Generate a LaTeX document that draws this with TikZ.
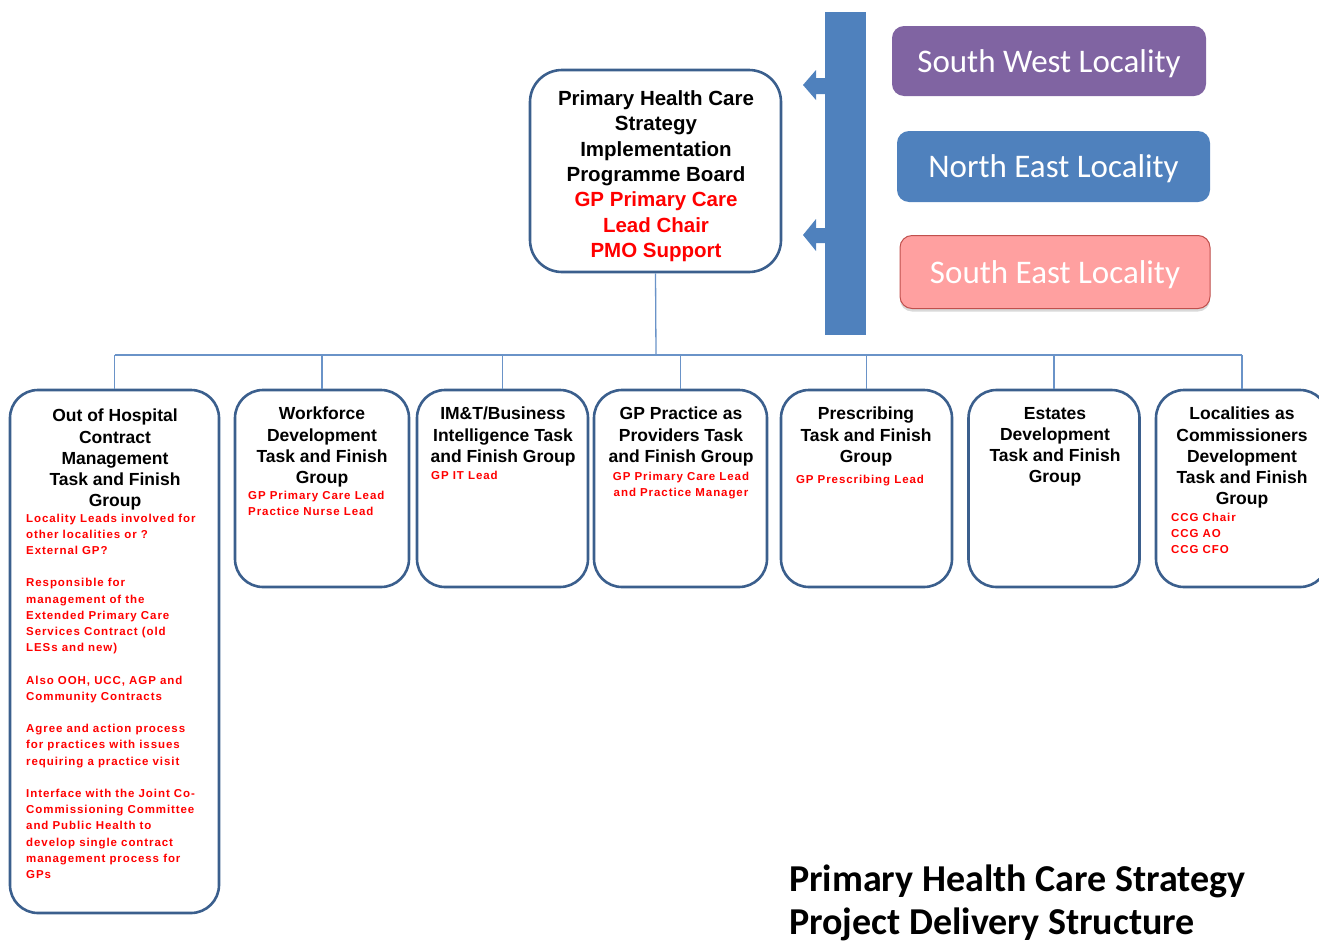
\documentclass[tikz,border=0pt]{standalone}
\usepackage{fontspec}
\setmainfont{Liberation Sans}
\newfontfamily\calfont{Carlito}
\newfontfamily\notefont[LetterSpace=8]{Liberation Sans}
\usetikzlibrary{shadows}
\definecolor{edgeblue}{HTML}{3B5F8D}
\definecolor{linkblue}{HTML}{6A93C8}
\definecolor{barblue}{HTML}{4F81BD}
\definecolor{swpurple}{HTML}{8064A2}
\definecolor{sepink}{HTML}{FFA0A0}
\definecolor{seborder}{HTML}{C0504D}
\definecolor{redtext}{HTML}{FF0000}
\begin{document}
\begin{tikzpicture}[x=1pt,y=-1pt,
  grp/.style={draw=edgeblue, line width=2.6pt, rounded corners=28pt, fill=white, inner sep=0pt},
  ttl/.style={anchor=north, align=center, font=\fontsize{17.5}{21.2}\selectfont\bfseries, inner sep=0pt},
  note/.style={anchor=north west, align=left, text=redtext, font=\notefont\fontsize{11.5}{16.2}\selectfont\bfseries, inner sep=0pt},
  notec/.style={note, anchor=north, align=center},
  loc/.style={rounded corners=12pt, text=white, font=\calfont\fontsize{33}{36}\selectfont, inner sep=0pt, text depth=0pt},
  link/.style={draw=linkblue, line width=1.3pt}
]
\useasboundingbox (0,0) rectangle (1319,940);

% board
\node[grp, rounded corners=32pt, minimum width=251pt, minimum height=202pt] (board) at (655.5,171) {};
\node[anchor=north, align=center, inner sep=0pt, font=\fontsize{20.5}{25.3}\selectfont\bfseries] (boardtxt) at (656,90.5)
 {Primary Health Care\\Strategy\\Implementation\\Programme Board\\
  \textcolor{redtext}{GP Primary Care}\\\textcolor{redtext}{Lead Chair}\\\textcolor{redtext}{PMO Support}};

% locality bar with arrows
\fill[barblue] (825,12) rectangle (866,335);
\fill[barblue] (826,78) -- (816,78) -- (816,70) -- (803,85) -- (816,100) -- (816,94) -- (826,94) -- cycle;
\fill[barblue] (826,228) -- (816,228) -- (816,219) -- (803,235) -- (816,251) -- (816,243) -- (826,243) -- cycle;

% localities
\node[loc, fill=swpurple, minimum width=314pt, minimum height=70pt] (sw) at (1049,61) {South West Locality};
\node[loc, fill=barblue, minimum width=313pt, minimum height=71pt] (ne) at (1053.5,166.5) {North East Locality};
\node[loc, fill=sepink, draw=seborder, line width=1pt, minimum width=310pt, minimum height=73pt,
      drop shadow={shadow xshift=0pt, shadow yshift=-3pt, opacity=0.3}] (se) at (1055,272) {South East Locality};

% groups
\node[grp, minimum width=209pt, minimum height=523pt] (g1) at (114.5,651.5) {};
\node[grp, minimum width=174pt, minimum height=197pt] (g2) at (322,488.5) {};
\node[grp, minimum width=171pt, minimum height=197pt] (g3) at (502.5,488.5) {};
\node[grp, minimum width=173pt, minimum height=197pt] (g4) at (680.5,488.5) {};
\node[grp, minimum width=171pt, minimum height=197pt] (g5) at (866.5,488.5) {};
\node[grp, minimum width=171pt, minimum height=197pt] (g6) at (1054,488.5) {};
\node[grp, minimum width=172pt, minimum height=197pt] (g7) at (1242,488.5) {};

% connectors
\coordinate (hub) at (656,355);
\draw[link] (board.south) -- (hub);
\draw[link] (g1.north |- hub) -- (g7.north |- hub);
\foreach \g in {g1,g2,g3,g4,g5,g6,g7} {\draw[link] (\g.north |- hub) -- (\g.north);}

% titles
\node[ttl] (t1) at (115,409) {Out of Hospital\\Contract\\Management\\Task and Finish\\Group};
\node[ttl] (t2) at (322,407) {Workforce\\Development\\Task and Finish\\Group};
\node[ttl] (t3) at (503,407) {IM\&T/Business\\Intelligence Task\\and Finish Group};
\node[ttl] (t4) at (681,407) {GP Practice as\\Providers Task\\and Finish Group};
\node[ttl] (t5) at (866,407) {Prescribing\\Task and Finish\\Group};
\node[ttl] (t6) at (1055,407) {Estates\\Development\\Task and Finish\\Group};
\node[ttl] (t7) at (1242,407) {Localities as\\Commissioners\\Development\\Task and Finish\\Group};

% red notes
\node[note] (n1) at (26,513.5) {Locality  Leads  involved for\\other  localities  or ?\\External  GP?\\[16.2pt]
Responsible  for\\management  of the\\Extended  Primary  Care\\Services Contract  (old\\LESs and new)\\[16.2pt]
Also OOH,  UCC, AGP and\\Community  Contracts\\[16.2pt]
Agree and action process\\for practices with issues\\requiring a practice visit\\[16.2pt]
Interface with the Joint Co-\\Commissioning  Committee\\and Public Health to\\develop single contract\\management process for\\GPs};
\node[note] (n2) at (248,490.5) {GP Primary Care Lead\\Practice Nurse Lead};
\node[note] (n3) at (431,470.5) {GP IT Lead};
\node[notec] (n4) at (681,471.5) {GP Primary Care Lead\\and Practice Manager};
\node[notec] (n5) at (860,474.5) {GP Prescribing Lead};
\node[note] (n7) at (1171,512.5) {CCG Chair\\CCG AO\\CCG CFO};

% caption
\node[anchor=base west, inner sep=0pt, font=\calfont\bfseries\fontsize{38}{44}\selectfont] (cap1) at (789,891) {Primary  Health  Care Strategy};
\node[anchor=base west, inner sep=0pt, font=\calfont\bfseries\fontsize{38}{44}\selectfont] (cap2) at (789,934) {Project  Delivery  Structure};
\end{tikzpicture}
\end{document}
